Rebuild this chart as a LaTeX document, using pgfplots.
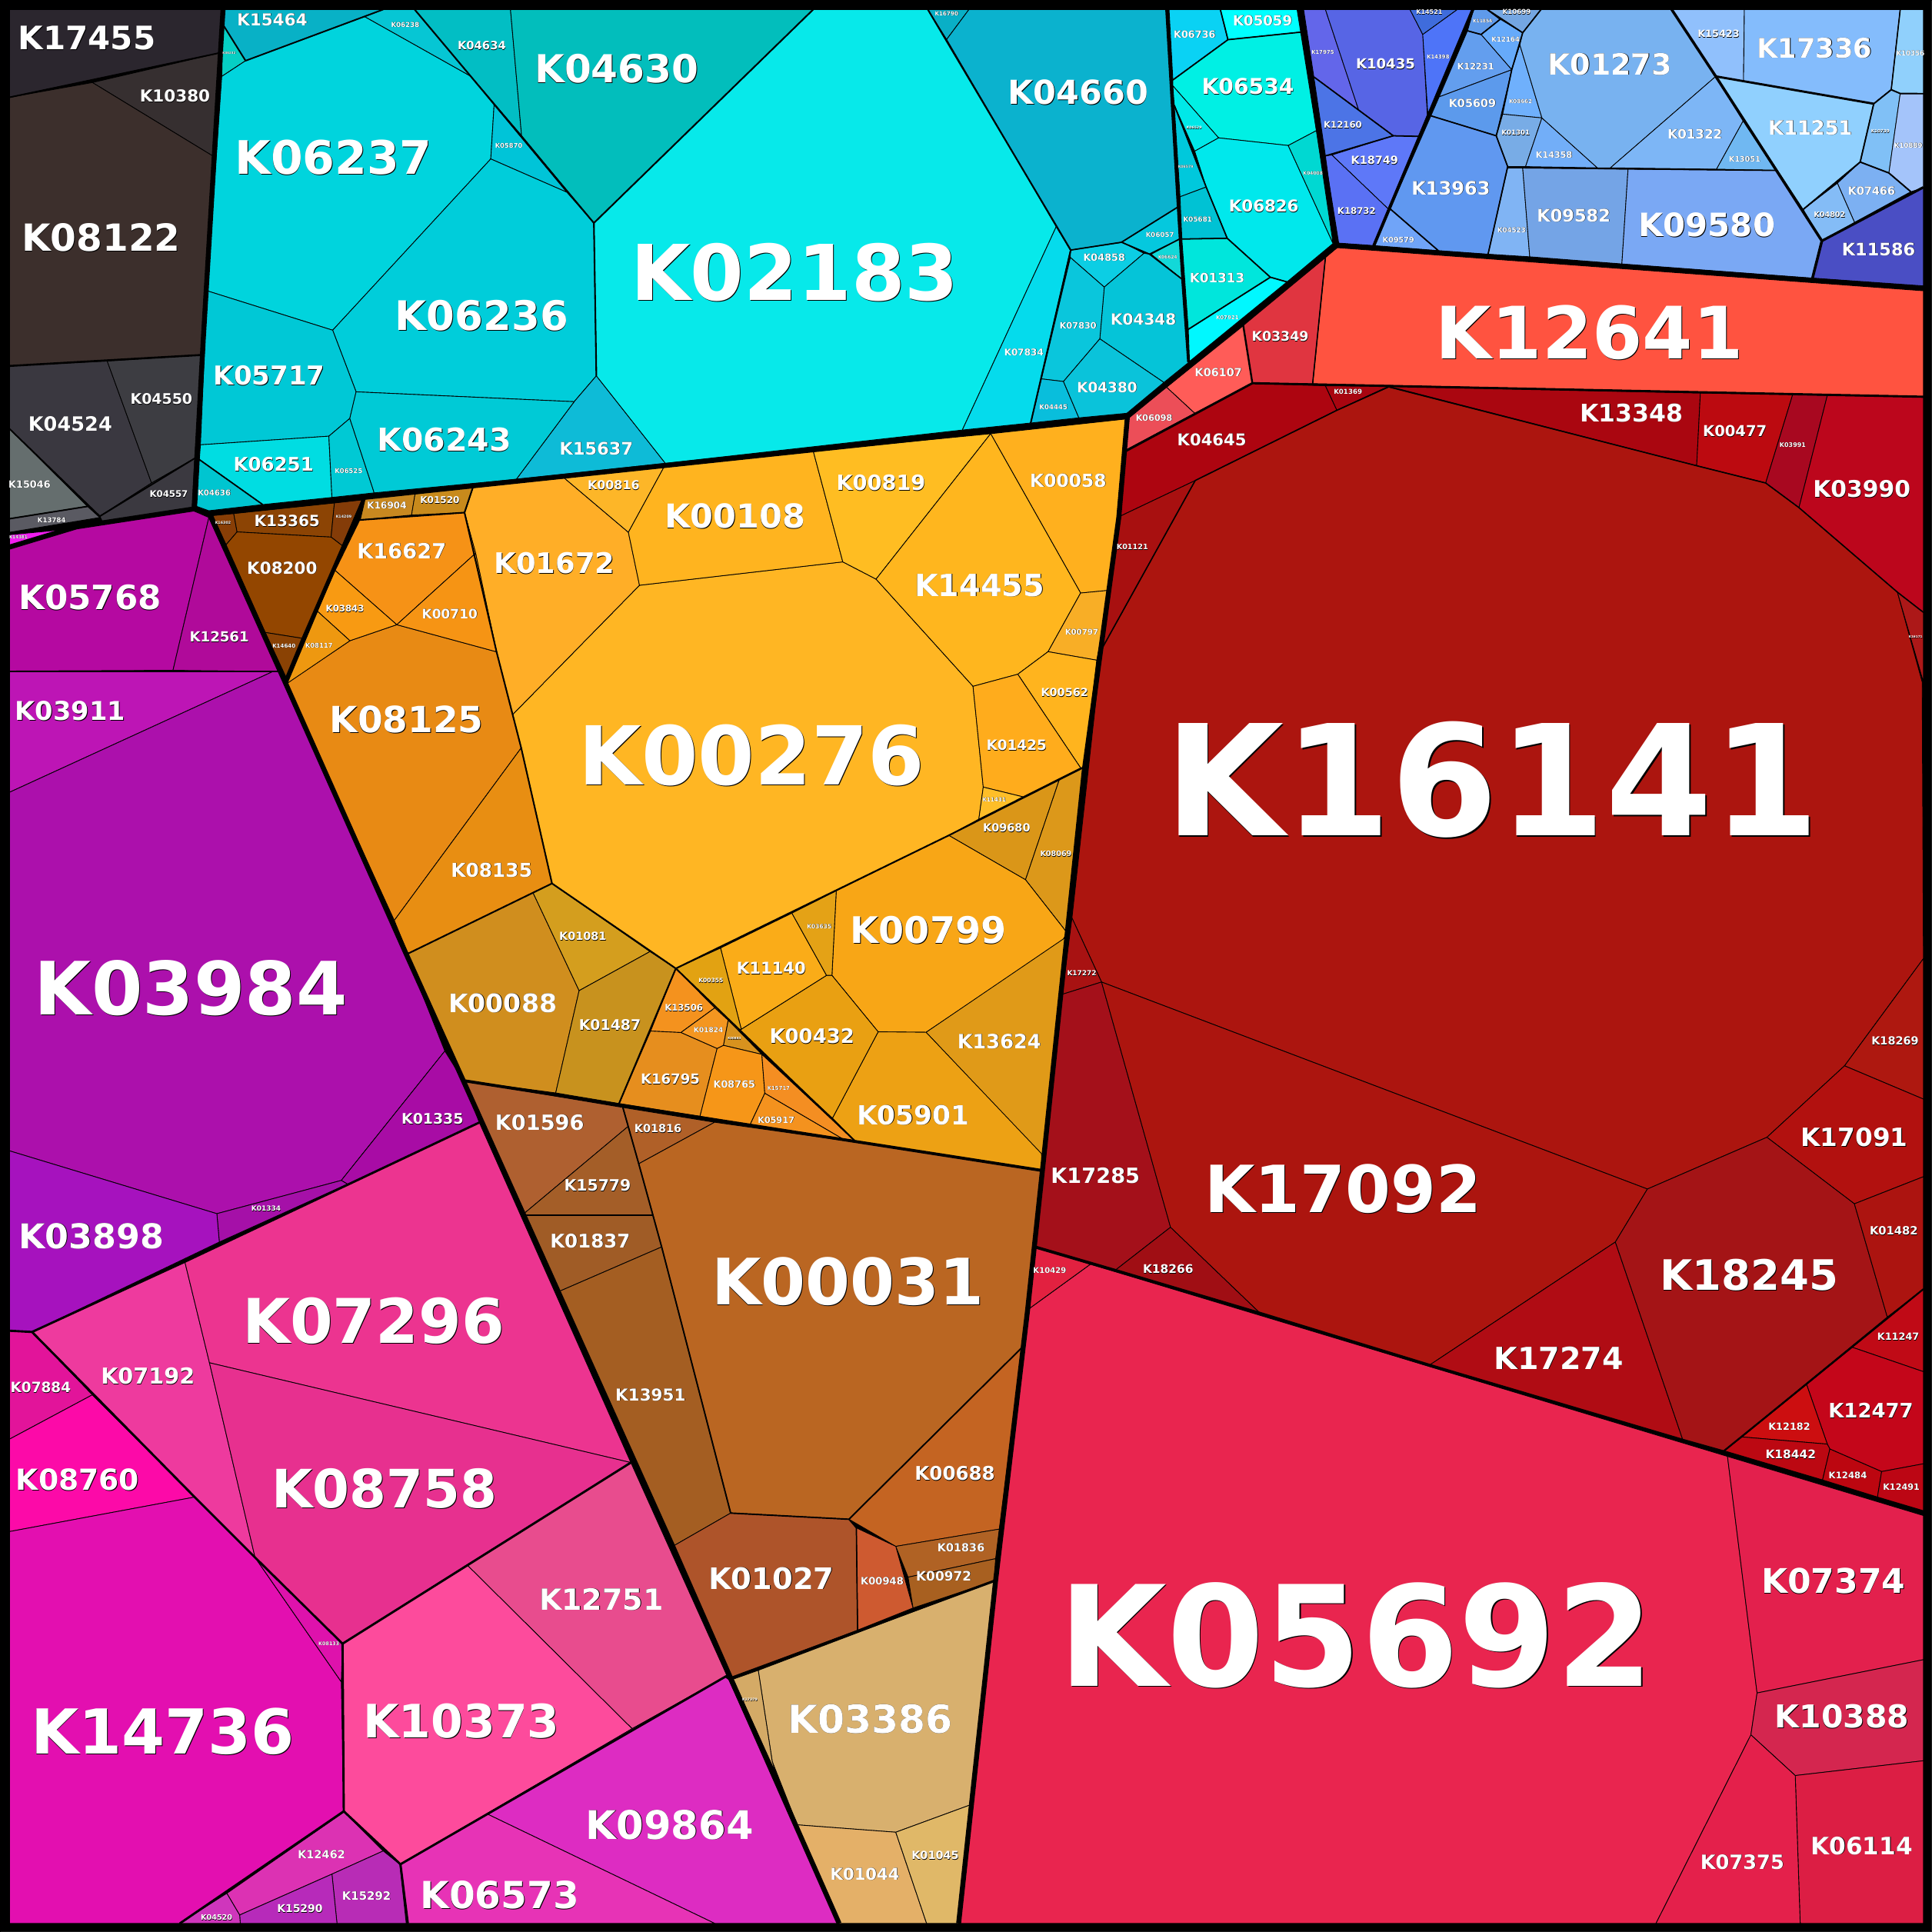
\documentclass[border=0pt]{standalone}
\usepackage{fontspec}
\setmainfont{DejaVu Sans}
\usepackage{pgfplots}
\pgfplotsset{compat=1.18}
\newcommand\C[2]{\definecolor{c#1}{HTML}{#1}\addplot[fill=c#1,draw=black,line width=0.55pt,line join=round] coordinates {#2} --cycle;}
\newcommand\T[2]{\addplot[black,line width=#1pt,line join=round] coordinates {#2};}
\newcommand\LL[4]{\node[black,inner sep=0pt,xshift={#3*0.007+0.2},yshift={-(#3*0.007+0.2)},font={\fontsize{#3}{#3}\bfseries}] at (axis cs:#1,#2) {#4};\node[white,inner sep=0pt,font={\fontsize{#3}{#3}\bfseries}] at (axis cs:#1,#2) {#4};}
\begin{document}
\begin{tikzpicture}
\begin{axis}[width=1568pt,height=1568pt,scale only axis,hide axis,xmin=0,xmax=1568,ymin=0,ymax=1568,y dir=reverse]
\C{1E1E1E}{(0,0)(1568,0)(1568,1568)(0,1568)}
\C{000000}{(1,1)(1567,1)(1567,1567)(1,1567)}
% dark group
\C{2B262E}{(7.7,7.7)(181,7.7)(178,43)(7.7,79)}
\C{362F30}{(75,67)(178,43)(175,128)}
\C{3C2F2C}{(7.7,79)(75,67)(175,128)(165,288)(7.7,297)}
\C{3A3840}{(7.7,297)(87,293)(123,392)(81,419)(7.7,348)}
\C{3D3D42}{(87,293)(165,288)(158,372)(123,392)}
\C{3B3940}{(123,392)(158,372)(156,413)(83,423)(81,419)}
\C{656E6E}{(7.7,348)(71,411)(7.7,421)}
\C{5A5A62}{(7.7,421)(71,411)(81,420)(7.7,432)}
\C{F01DF0}{(7.7,434)(50,430)(7.7,444)}
% magenta group
\C{B509A1}{(7.7,445)(62,427.6)(157,414.5)(169.5,420)(140.4,544)(7.7,544.6)}
\C{B00A9A}{(169.5,420)(227,545)(140.4,544)}
\C{BD15B5}{(7.7,545)(221.5,545)(7.7,643)}
\C{AC10AC}{(7.7,643)(221.5,545)(227,545)(232,555)(330,775)(361,853)(277,958)(176,985)(7.7,934)}
\C{A80CA5}{(361,853)(376,877)(389,911)(282,961)(277,958)}
\C{A510A8}{(176,985)(277,958)(282,961)(178,1008)}
\C{A612BE}{(7.7,934)(176,985)(178,1008)(26,1081)(7.7,1080)}
% pink group
\C{E2149A}{(7.7,1080)(26,1081)(75,1132)(7.7,1168)}
\C{FC0AA8}{(7.7,1168)(75,1132)(158,1215)(7.7,1243)}
\C{E30FB0}{(7.7,1243)(158,1215)(207,1264)(277,1365)(279,1470)(146,1561)(7.7,1561)}
\C{DE12AC}{(207,1264)(278,1334)(277,1365)}
\C{EE3A9E}{(26,1081)(150,1024)(170,1106)(207,1264)(158,1215)(75,1132)}
\C{EC3490}{(150,1024)(389,911)(512,1187)(170,1106)}
\C{E7308F}{(170,1106)(512,1187)(278,1334)(207,1264)}
\C{E84C8E}{(512,1187)(590,1360)(513,1403)(379,1270)}
\C{FD4B9C}{(379,1270)(513,1403)(325,1513)(279,1470)(278,1334)}
\C{DD2CC2}{(590,1360)(681,1561)(580,1561)(395,1472)(513,1403)}
\C{E733B6}{(395,1472)(580,1561)(330,1561)(324.5,1513)}
\C{DC32B3}{(279.2,1470.6)(311,1502.2)(269.4,1521)(194.5,1554.2)(184.1,1536.6)}
\C{B82CB6}{(311,1502.2)(324.5,1513)(329.7,1561)(273.5,1561)(269.4,1521)}
\C{B72ABA}{(194.5,1554.2)(269.4,1521)(273.5,1561)(195,1561)}
\C{CF36BC}{(184.1,1536.6)(194.5,1554.2)(195,1561)(145.6,1561)}
% cyan group
\C{08B1C6}{(182,7.7)(311,7.7)(199.3,49.3)(181,20)}
\C{06CFC4}{(181,20)(199.3,49.3)(180,62)}
\C{00D4DD}{(180,62)(199.3,49.3)(296,13.5)(382.3,62)(401,85)(398.3,129)(270,268)(168,236)}
\C{06C6D4}{(296,13.5)(311,7.7)(336.5,7.7)(382.3,62)}
\C{00C4D8}{(401,85)(460,156)(398.3,129)}
\C{00CDDA}{(398.3,129)(460,156)(482,181)(484,305)(466,326)(289,318)(270,268)}
\C{0EBBD7}{(484,305)(540,376)(419,389)(466,326)}
\C{00C8D6}{(168,236)(270,268)(289,318)(283.9,339.6)(266.9,354)(162.7,361)}
\C{00DDE2}{(162.7,361)(266.9,354)(269.4,403.7)(213.2,409.5)(161.8,373)}
\C{00C9D4}{(266.9,354)(283.9,339.6)(303.7,400)(269.4,403.7)}
\C{00CAD6}{(289,318)(466,326)(419,389)(303.7,400)(283.9,339.6)}
\C{00C5D0}{(161.8,373)(213.2,409.5)(169.5,414.5)(159.7,411)}
\C{02BEC4}{(336.5,7.7)(414.3,7.7)(423.3,110)(382.3,62)}
\C{02BEBC}{(414.3,7.7)(660,7.7)(482,181)(423.3,110)}
\C{07E9EA}{(660,7.7)(753,7.7)(768.3,32)(857.2,184)(781,349)(540,376)(484,305)(482,181)}
\C{05DBEC}{(857.2,184)(868.7,203)(836.5,343.3)(781,349)}
\C{09AFC6}{(753,7.7)(786.4,7.7)(768.3,32)}
\C{0BB2CE}{(786.4,7.7)(946.6,7.7)(956,168)(910.2,196.6)(868.7,203)(768.3,32)}
\C{05C8DE}{(956,168)(958.6,193.4)(933,206.3)(910.2,196.6)}
\C{0CCEE4}{(868.7,203)(910.9,196.7)(928.4,205.6)(896.2,233)(868.7,209)}
\C{12D8D8}{(934.2,206.4)(958.1,193.5)(959.6,226.8)}
\C{05C4D8}{(928.4,205.6)(934.2,206.4)(959.6,226.8)(964.4,294.4)(944.6,310.4)(892.6,275)(896.2,233)}
\C{0AC6DC}{(868.7,209)(896.2,233)(892.6,275)(863.1,309.6)(845.2,307.5)}
\C{09BEDC}{(845.2,307.5)(863.1,309.6)(875.6,339.1)(836.5,343.3)}
\C{0AC3DA}{(892.6,275)(944.6,310.4)(914.5,335.4)(875.6,339.1)(863.1,309.6)}
\C{0AD2F4}{(948.8,7.7)(990.4,7.7)(996.6,32.2)(951.9,64.9)}
\C{00FFFF}{(990.4,7.7)(1054.4,7.7)(1056.5,26)(996.6,32.2)}
\C{00F0E4}{(996.6,32.2)(1056.5,26)(1068.4,106)(1045.5,118.1)(989,111.9)(951.9,69.7)(951.9,64.9)}
\C{00E8E8}{(951.9,69.7)(989,111.9)(969.6,122.7)(953,85.3)}
\C{00C8DC}{(953,85.3)(978.9,151.8)(957.7,159.7)}
\C{00C2D4}{(957.7,159.7)(978.9,151.8)(996,193.4)(959.2,194)}
\C{00E8EC}{(969.6,122.7)(989,111.9)(1045.5,118.1)(1081.9,197.6)(1044.5,228.8)(1031,225)(996,193.4)(978.9,151.8)}
\C{00D8D2}{(1045.5,118.1)(1068.4,106)(1081.9,197.6)}
\C{00E6DC}{(959.2,194)(996,193.4)(1031,225)(964.4,267.3)}
\C{00F8FF}{(964.4,267.3)(1031,225)(1044.5,228.8)(965.4,293.3)}
% blue group
\C{6366EA}{(1058,7.7)(1075.7,7.7)(1102.7,89.4)(1066.3,62.4)}
\C{5765E5}{(1075.7,7.7)(1144.3,7.7)(1154.7,28)(1158.4,93.6)(1151.6,110.7)(1130.8,110.2)(1102.7,89.4)}
\C{3F6CDC}{(1144.3,7.7)(1182.8,7.7)(1154.7,28)}
\C{4E74F8}{(1182.8,7.7)(1195.3,7.7)(1158.9,93.6)(1154.7,28)}
\C{4C74E6}{(1066.3,62.4)(1102.7,89.4)(1130.8,110.2)(1075.7,126.5)}
\C{5E78F8}{(1080.9,125.8)(1130.8,110.2)(1151.6,110.7)(1126.6,169.5)}
\C{5A71F4}{(1075.7,126.5)(1080.9,125.8)(1126.6,169.5)(1115.2,199.3)(1085,197.2)}
\C{5F9AEA}{(1196,7.7)(1207,7.7)(1217.6,15.6)(1202,28)(1191,25)}
\C{74A6E2}{(1207,7.7)(1250.7,7.7)(1235.8,26.6)}
\C{66AAFA}{(1217.6,15.6)(1235.8,26.6)(1233.5,36.4)(1226.9,56.6)(1202,28)}
\C{639EEE}{(1191,25)(1202,28)(1226.9,56.6)(1168,78.6)}
\C{5C9AEC}{(1168,78.6)(1226.9,56.6)(1214.3,110.2)(1161.3,94)}
\C{6FB0FC}{(1233.5,36.4)(1251.4,95.7)(1219.3,92.6)(1226.9,56.6)}
\C{78ACE6}{(1219.3,92.6)(1251.4,95.7)(1238.1,135.2)(1223.6,135.2)(1214.3,110.2)}
\C{72AEF8}{(1251.4,95.7)(1296.4,136.2)(1238.1,135.2)}
\C{78B2F0}{(1250.7,7.7)(1356.7,7.7)(1392.5,62)(1307,136.2)(1296.4,136.2)(1251.4,95.7)(1233.5,36.4)(1235.8,26.6)}
\C{7DB6F6}{(1392.5,62)(1414.7,98.2)(1393.1,137.3)(1307,136.2)}
\C{70B8F2}{(1414.7,98.2)(1441.2,138.3)(1393.1,137.3)}
\C{6098F0}{(1161.3,94)(1214.3,110.2)(1223.6,135.2)(1207.7,206.3)(1167.3,203.4)(1128.2,169.5)}
\C{70A4F8}{(1128.2,169.5)(1167.3,203.4)(1115,199.3)}
\C{80B4F4}{(1223.6,136.2)(1235.8,136.2)(1241.5,208.4)(1207.7,206.3)}
\C{74A4E6}{(1235.8,136.2)(1321.3,137.3)(1316.3,214.2)(1241.5,208.4)}
\C{7AA8F4}{(1321.3,137.3)(1441.2,138.3)(1478.6,195.5)(1471,225.7)(1316.3,214.2)}
\C{90C0FC}{(1356.7,7.7)(1415.7,7.7)(1415,66)(1392.5,62)}
\C{84BCFC}{(1415.7,7.7)(1542.2,7.7)(1534.9,72.8)(1520.7,84.2)(1415,66)}
\C{90D0FC}{(1542.2,7.7)(1561,7.7)(1561,76)(1542.2,75.9)(1534.9,72.8)}
\C{90D0FE}{(1392.5,62)(1520.7,84.2)(1509.7,131.5)(1463.4,170)}
\C{80C0F6}{(1520.7,84.2)(1534.9,72.8)(1542.2,75.9)(1533,140.4)(1509.7,131.5)}
\C{A4C4FA}{(1542.2,75.9)(1561,75.9)(1561,152.5)(1550.8,155.6)(1533,140.4)}
\C{7CB0F2}{(1509.7,131.5)(1533,140.4)(1550.8,155.6)(1505.1,180.5)(1491.2,148.7)}
\C{84BCF6}{(1491.2,148.7)(1505.1,180.5)(1478.6,195.5)(1463.4,170)}
\C{4A4EC4}{(1561,152)(1561,232)(1471,225.7)(1478.6,195.5)}
% top red
\C{FF5340}{(1085,201)(1561,236)(1561,322)(1065.3,311.5)(1075.7,209)}
\C{E03540}{(1075.7,209)(1065.3,311.5)(1016.4,311)(1009,264.2)}
\C{FF5C58}{(1009.1,264.3)(1016.4,311)(969.6,335.4)(946.7,314.2)}
\C{EC4E58}{(946.7,314.2)(969.6,335.4)(913.8,365.1)(914.5,337)}
\C{AD0510}{(1016.4,311)(1075.7,313.1)(1085,332.9)(970,390)(909,419)(913.8,366)}
\C{A80510}{(1075.7,313.1)(1127,313.5)(1085,332.9)}
\C{AA0610}{(1127,313.5)(1380,319)(1377,378)}
\C{BC0A10}{(1380,319)(1455,320)(1433,392)(1377,378)}
\C{A80820}{(1455,320)(1483,321)(1460,412)(1433,392)}
\C{BC061C}{(1483,321)(1561,322)(1561,497)(1539.9,480.6)(1460,412)}
\C{AC150F}{(970,390)(1085,333)(1127,314)(1377,378)(1433,392)(1460,412)(1539.9,480.6)(1560,553.5)(1561,778)(1497,865)(1434,923)(1337,965)(894,797)(870,745)(894,527)}
\C{A81010}{(913,368)(909,419)(970,390)(894,527)}
\C{AC1818}{(1539.9,480.6)(1561,497)(1561,553.5)}
\C{A81212}{(870,745)(894,797)(862,807)}
\C{A4101A}{(862,807)(894,797)(950,996)(905,1031)(840,1012)(846,950)}
\C{A00E14}{(950,996)(1023,1066)(905,1031)}
\C{AC150F}{(894,797)(1337,965)(1311,1008)(1160,1108)(1023,1066)(950,996)}
\C{B00C14}{(1311,1008)(1365.9,1169)(1160,1108)}
\C{AE1810}{(1561,778)(1497,865)(1561,892)}
\C{B2110F}{(1497,865)(1561,892)(1561,955)(1505,977)(1434,923)}
\C{A41416}{(1434,923)(1505,977)(1531.7,1068.9)(1398.2,1178.3)(1365.9,1169)(1311,1008)(1337,965)}
\C{AC1410}{(1505,977)(1561,955)(1561,1046.2)(1531.7,1068.9)}
\C{C00A16}{(1561,1046.2)(1503.2,1093.4)(1561,1113.2)}
\C{C4061A}{(1503.2,1093.4)(1561,1113.2)(1561,1188)(1527.1,1194.3)(1485.1,1176)(1483,1172)(1466.2,1123.6)}
\C{CC0E10}{(1466.2,1123.6)(1483,1172)(1413.8,1166.2)}
\C{BC0812}{(1413.8,1166.2)(1483,1172)(1485.1,1176)(1478.9,1202.2)(1398.2,1178.3)}
\C{BC0610}{(1485.1,1176)(1527.1,1194.3)(1523.6,1215.7)(1478.9,1202.2)}
\C{BC0614}{(1527.1,1194.3)(1561,1188)(1561,1227)(1523.6,1215.7)}
% crimson
\C{E9254F}{(885,1026)(1402,1182)(1426,1374)(1421,1408)(1344,1561)(778,1561)(808,1283)(834,1063)}
\C{E22140}{(840,1012)(885,1026)(834,1063)}
\C{E3204D}{(1402,1182)(1561,1230)(1561,1347)(1426,1374)}
\C{D4264F}{(1426,1374)(1561,1347)(1561,1429)(1457,1441)(1421,1408)}
\C{DC1E44}{(1457,1441)(1561,1429)(1561,1561)(1461,1561)}
\C{E4204B}{(1421,1408)(1457,1441)(1461,1561)(1344,1561)}
% orange
\C{FFB623}{(519,475)(684,456)(711,470)(789.7,557)(798,638.8)(794.4,664.8)(770,678)(548.5,786)(448,717)(423,607)(416,580)}
\C{FFAE27}{(384,395)(458,388)(510,432)(519,475)(416,580)(403,529)(386,449)(377,416)}
\C{FDB628}{(458,388)(540,377)(510,432)}
\C{FFB41F}{(540,377)(660,366)(684,456)(519,475)(510,432)}
\C{FFBD22}{(660,366)(804,352)(711,470)(684,456)}
\C{FFB01E}{(804,352)(914,340)(901,479)(877,481.3)}
\C{FFB61E}{(804,352)(877,481.3)(850.6,528.9)(826,547.2)(789.7,557)(711,470)}
\C{F8AE26}{(877,481.3)(901,479)(890.1,535.8)(850.6,528.9)}
\C{FFB41E}{(826,547.2)(850.6,528.9)(890.1,535.8)(880,622.5)(877,623.2)}
\C{FFAC1C}{(789.7,557)(826,547.2)(877,623.2)(830.2,646.7)(798,638.8)}
\C{FEBE28}{(798,638.8)(830.2,646.7)(794.4,664.8)}
\C{DA9618}{(770,678)(859.8,632.5)(832.3,714)}
\C{DC981A}{(859.8,632.5)(880,622.5)(866,757)(832.3,714)}
\C{F8A616}{(678.7,723)(770,678)(832.3,714)(866,757)(861.5,764.6)(751.6,837.8)(712.7,837.4)(675.2,791.6)}
\C{E09A18}{(866,760)(846,938)(751.6,837.8)}
\C{EDA114}{(712.7,837.4)(751.6,837.8)(845.2,936.2)(846,950)(694.7,926.8)(675.6,907.5)}
\C{E9A012}{(601.6,835.3)(670.8,791.6)(675.2,791.6)(712.7,837.4)(675.6,907.5)(598,835)}
\C{FAAC18}{(584.8,769.4)(642.7,741.1)(670.8,791.6)(601.6,835.3)}
\C{E4A216}{(642.7,741.1)(678.7,723)(675.2,791.6)(670.8,791.6)}
\C{E2A212}{(548.5,786)(584.8,769.4)(601.6,835.3)(598,836)}
\C{F4921E}{(548.5,786)(580.1,818)(552.6,838)(528,836.8)}
\C{F49620}{(580.1,818)(591,828)(587.2,848.4)(582,851)(552.6,838)}
\C{D8921E}{(591,828)(618.3,855.7)(587.2,848.4)}
\C{E68E1E}{(528,836.8)(552.6,838)(582,851)(568.1,906)(502.4,895.6)}
\C{F69618}{(582,851)(587.2,848.4)(618.3,855.7)(620.7,887.3)(608.7,912.9)(568.1,906)}
\C{F48E22}{(618.3,855.7)(694.7,926.8)(686.4,925.8)(620.7,887.3)}
\C{F4921E}{(620.7,887.3)(686.4,925.8)(608.7,912.9)}
\C{D08E1E}{(331,774)(430,719)(470,804)(451,887)(376,877)}
\C{D49E1E}{(430,719)(448,717)(527.5,772.3)(470,804)}
\C{C8921E}{(470,804)(527.5,772.3)(548.5,786)(502.4,895.6)(451,887)}
\C{E88A14}{(232,555)(284,520)(322,507)(403,529)(416,580)(423,607)(320,747)}
\C{E88E12}{(423,607)(448,717)(331,774)(320,747)}
\C{F69216}{(292,422)(377,416)(386,449)(322,507)(272,463)}
\C{F89A12}{(272,463)(322,507)(284,520)(257.5,496)}
\C{EE9810}{(257.5,496)(284,520)(232.5,555)}
\C{F69414}{(322,507)(386,449)(403,529)}
\C{C88820}{(296,405)(337,400)(334,418)(292,422)}
\C{C88A1C}{(337,400)(384,395)(377,416)(334,418)}
% small brown
\C{883E06}{(172.6,418.2)(189.7,416.8)(192.4,431.7)(183.5,442.1)}
\C{8C4404}{(189.7,416.8)(271.4,408.2)(268.7,435.9)(192.4,431.7)}
\C{843C08}{(271.4,408.2)(293.7,405.7)(277.7,442.8)(268.7,435.9)}
\C{934600}{(192.4,431.7)(268.7,435.9)(277.7,442.8)(245,518)(215.3,513.3)(183.5,442.1)}
\C{8A4204}{(215.3,513.3)(245,518)(232,549.3)}
% brown
\C{AF6030}{(376,877)(505.5,898.8)(510,914)(424,986)}
\C{A45E28}{(510,914)(518.4,944.5)(530,986)(424,986)}
\C{A05C26}{(424,986)(530,986)(537,1012)(454,1048)}
\C{A45E22}{(454,1048)(537,1012)(593,1228)(546,1255)}
\C{B06028}{(505.5,898.8)(580,910.8)(518.4,944.5)}
\C{BA6622}{(518.4,944.5)(580,910.8)(694.7,927)(846,950)(830,1093)(689,1233)(593,1228)(537,1012)(530,986)}
\C{C46422}{(830,1093)(811,1241)(727,1255)(689,1233)}
\C{B06224}{(727,1255)(811,1241)(808,1265)(737,1280)}
\C{A86020}{(737,1280)(808,1265)(807,1283)(741,1305)}
\C{CE5A30}{(695,1240)(727,1255)(741,1305)(696,1323)}
\C{AE542A}{(593,1228)(689,1233)(695,1240)(696,1323)(593,1362)(546,1255)}
\C{D8B06E}{(615.4,1355.6)(807,1283)(787,1465)(727,1487)(647,1481)(626.7,1429.4)}
\C{D4AA66}{(595,1362.8)(615.4,1355.6)(626.7,1429.4)(630,1440)}
\C{E4B068}{(647,1481)(727,1487)(752,1561)(681,1561)}
\C{E0B868}{(727,1487)(787,1465)(778,1561)(752,1561)}
% level lines
\T{1.2}{(7.7,79)(178,43)}
\T{1.6}{(7.7,297)(165,288)}
\T{1.2}{(7.7,348)(81,419)(158,372)}
\T{1.2}{(7.7,421)(71,411)}
\T{1.0}{(7.7,545)(227,545)}
\T{1.8}{(7.7,1080)(26,1081)(150,1024)(389,911)}
\T{1.8}{(26,1081)(158,1215)(207,1264)(278,1334)(512,1187)}
\T{1.8}{(278,1334)(279,1470)(146,1561)}
\T{1.8}{(279,1470)(325,1513)(331,1561)}
\T{1.8}{(325,1513)(590,1360)}
\T{1.2}{(181,20)(199.3,49.3)(311,7.7)}
\T{1.3}{(336.5,7.7)(482,181)(660,7.7)}
\T{1.3}{(482,181)(484,305)}
\T{1.3}{(753,7.7)(869,203)(836.5,343.3)}
\T{1.1}{(956,168)(910.2,196.6)(868.7,203)}
\T{1.1}{(910.2,196.6)(933,206.3)(959.6,226.8)}
\T{1.1}{(958.6,193.4)(933,206.3)}
\T{1.8}{(946.6,7.7)(956,168)(959.6,227)(964.4,294)}
\T{1.1}{(951.9,64.9)(996.6,32.2)(1056.5,26)}
\T{1.1}{(990.4,7.7)(996.6,32.2)}
\T{1.1}{(953,85.3)(978.9,151.8)(996,193.4)(1031,225)(964.4,267.3)}
\T{1.1}{(1031,225)(1044.5,228.8)}
\T{1.1}{(959.2,194)(996,193.4)}
\T{1.1}{(161.8,373)(213.2,409.5)}
\T{2.5}{(1195.3,7.7)(1115,199.3)}
\T{1.1}{(1066.3,62.4)(1130.8,110.2)(1151.6,110.7)}
\T{1.1}{(1075.7,126.5)(1130.8,110.2)}
\T{1.1}{(1161.3,94)(1214.3,110.2)(1223.6,135.2)(1207.7,206.3)}
\T{1.1}{(1223.6,136)(1441.2,138.3)}
\T{1.1}{(1191,25)(1202,28)(1217.6,15.6)(1207,7.7)(1235.8,26.6)(1250.7,7.7)}
\T{1.1}{(1235.8,26.6)(1226.9,56.6)(1219.3,92.6)(1214.3,110.2)}
\T{1.1}{(1128.2,169.5)(1167.3,203.4)}
\T{1.2}{(1520.7,84.2)(1509.7,131.5)(1463.4,170)}
\T{1.2}{(1520.7,84.2)(1534.9,72.8)(1542.2,75.9)(1561,76)}
\T{1.0}{(1534.9,72.8)(1542.2,7.7)}
\T{1.2}{(1509.7,131.5)(1533,140.4)(1550.8,155.6)}
\T{2.2}{(1356.7,7.7)(1392.5,62)(1478.6,195.5)(1471,225.7)}
\T{1.8}{(1392.5,62)(1520.7,84.2)}
\T{2.0}{(1478.6,195.5)(1561,152)}
\T{1.5}{(1009,264.2)(1016.4,311)}
\T{1.0}{(1075.7,209)(1065.3,311.5)}
\T{1.8}{(913.8,366)(1016.4,311)(1561,322)}
\T{1.0}{(970,390)(1085,333)(1127,314)(1377,378)(1433,392)(1460,412)(1539.9,480.6)(1561,497)}
\T{1.0}{(894,527)(970,390)}
\T{1.4}{(1398.2,1178.3)(1561,1046.2)}
\T{2.4}{(840,1012)(905,1031)(1023,1066)(1160,1108)(1366,1169)(1398,1178)(1479,1202)(1524,1216)(1561,1227)}
\T{2.4}{(295,405)(232,555)}
\T{1.3}{(296,405)(292,422)(377,416)(403,529)(423,607)(448,717)(331,774)}
\T{1.3}{(384,395)(377,416)}
\T{1.3}{(448,717)(548.5,786)(770,678)(880,622.5)}
\T{1.3}{(548.5,786)(694.7,926.8)}
\T{1.3}{(502.4,895.6)(548.5,786)}
\T{2.4}{(376,877)(846,950)}
\T{1.2}{(505.5,898.8)(518.4,944.5)(537,1012)(593,1228)(689,1233)(830,1093)}
\T{1.0}{(689,1233)(695,1240)(696,1323)}
\T{2.0}{(593,1362)(807,1283)}
\T{1.1}{(424,986)(530,986)}
% top level
\T{4}{(181,7.7)(165,275)(157.5,413)}
\T{4}{(7.7,444)(62,427.6)(157.5,413)(170,417)(915,338)}
\T{4}{(1054.4,7.7)(1085,199)(915,338)(908,420)(880,625)(846,950)(834,1063)(808,1283)(778,1561)}
\T{3.6}{(1085,199)(1561,234)}
\T{4}{(170,417)(232,555)(330,775)(376,877)(546,1255)(593,1362)(681,1561)}
\T{4}{(590,1360)(593,1362)}
% labels
\LL{1211}{633}{125}{K16141}
\LL{1100.5}{1327}{113.5}{K05692}
\LL{645}{221}{62.5}{K02183}
\LL{610}{613}{66}{K00276}
\LL{155}{802}{59.7}{K03984}
\LL{1090}{965}{52.8}{K17092}
\LL{688}{1040}{52}{K00031}
\LL{303}{1072}{50}{K07296}
\LL{132}{1405}{50.3}{K14736}
\LL{312}{1208}{43}{K08758}
\LL{1290}{270}{58.6}{K12641}
\LL{270.5}{128}{37.5}{K06237}
\LL{391}{256}{33}{K06236}
\LL{82}{193}{30.3}{K08122}
\LL{500.5}{56}{31.3}{K04630}
\LL{875}{75}{26.8}{K04660}
\LL{374.5}{1397}{37.4}{K10373}
\LL{706}{1395}{31.4}{K03386}
\LL{543.5}{1481}{32}{K09864}
\LL{405.5}{1538}{30.3}{K06573}
\LL{488}{1298}{23.7}{K12751}
\LL{1419.5}{1035}{34}{K18245}
\LL{753.5}{755}{29.7}{K00799}
\LL{330}{584}{29.3}{K08125}
\LL{795}{475}{24.8}{K14455}
\LL{450}{457}{23}{K01672}
\LL{596.5}{419}{26.8}{K00108}
\LL{715}{392}{17}{K00819}
\LL{867}{390}{14.6}{K00058}
\LL{360.5}{357}{25.6}{K06243}
\LL{218.5}{305}{21.2}{K05717}
\LL{222}{377}{15.3}{K06251}
\LL{73}{485}{27.2}{K05768}
\LL{57}{577}{21}{K03911}
\LL{74}{1003}{27.7}{K03898}
\LL{70.5}{31}{26.2}{K17455}
\LL{142}{78}{13.4}{K10380}
\LL{57}{344}{16}{K04524}
\LL{131}{324}{11.8}{K04550}
\LL{137}{401}{7.3}{K04557}
\LL{24}{393}{8}{K15046}
\LL{42}{422}{5.4}{K13784}
\LL{15}{436}{3.5}{K14381}
\LL{221}{16}{13.4}{K15464}
\LL{329}{20}{5.4}{K06238}
\LL{391}{37}{9.2}{K04634}
\LL{413}{118}{5.2}{K05870}
\LL{186}{43}{2.5}{K06232}
\LL{484}{364}{14}{K15637}
\LL{283}{382}{5.3}{K06525}
\LL{174}{400}{6.3}{K04636}
\LL{178}{517}{11.3}{K12561}
\LL{229}{461}{13.4}{K08200}
\LL{233}{423}{12.5}{K13365}
\LL{181}{424.5}{3}{K16302}
\LL{279}{419}{3}{K14209}
\LL{230.5}{524}{4.4}{K14640}
\LL{314}{410}{7.5}{K16904}
\LL{357}{406}{7.5}{K01520}
\LL{326}{447}{17}{K16627}
\LL{365}{498}{10.6}{K00710}
\LL{280}{494}{7.3}{K03843}
\LL{259}{524}{5.2}{K08117}
\LL{399}{706}{15.5}{K08135}
\LL{408}{814}{20.7}{K00088}
\LL{473}{760}{9}{K01081}
\LL{495}{832}{11.8}{K01487}
\LL{498}{394}{9.9}{K00816}
\LL{878}{513}{6.3}{K00797}
\LL{864}{562}{9}{K00562}
\LL{825}{605}{11.5}{K01425}
\LL{807}{649}{4.5}{K11431}
\LL{817}{672}{9}{K09680}
\LL{857}{693}{6}{K08069}
\LL{665}{752}{4.7}{K03635}
\LL{626}{786}{13.2}{K11140}
\LL{577}{796}{4.7}{K00355}
\LL{555}{818}{7.3}{K13506}
\LL{575}{836}{5.6}{K01824}
\LL{596}{843}{2.5}{K00883}
\LL{544}{876}{11.3}{K16795}
\LL{596}{880}{8}{K08765}
\LL{632}{883}{4.3}{K15717}
\LL{630}{909}{7}{K05917}
\LL{659}{841}{16.2}{K00432}
\LL{811}{845}{16}{K13624}
\LL{741}{905}{21.4}{K05901}
\LL{438}{911}{17}{K01596}
\LL{534}{916}{9}{K01816}
\LL{485}{962}{12.7}{K15779}
\LL{479}{1007}{15.3}{K01837}
\LL{528}{1132}{13.4}{K13951}
\LL{775}{1196}{15.3}{K00688}
\LL{780}{1256}{9}{K01836}
\LL{766}{1279}{10.6}{K00972}
\LL{716}{1283}{8.2}{K00948}
\LL{626}{1281}{24}{K01027}
\LL{608.6}{1379.5}{2.9}{K17379}
\LL{702}{1521}{13.2}{K01044}
\LL{759}{1506}{9}{K01045}
\LL{33}{1126}{11.5}{K07884}
\LL{120}{1117}{17.9}{K07192}
\LL{63}{1201}{23.5}{K08760}
\LL{267}{1334}{4}{K08133}
\LL{351}{908}{11.8}{K01335}
\LL{216}{981}{5.6}{K01334}
\LL{261}{1505}{9}{K12462}
\LL{243.4}{1549}{8.7}{K15290}
\LL{297.5}{1538.6}{9.3}{K15292}
\LL{175.8}{1556.3}{6}{K04520}
\LL{768.3}{11}{4.5}{K16790}
\LL{831}{286}{7.5}{K07834}
\LL{875}{264.3}{7}{K07830}
\LL{896.2}{208.7}{8}{K04858}
\LL{941.4}{190.3}{5.4}{K06057}
\LL{947.7}{208.5}{3.6}{K06624}
\LL{928}{259}{12.5}{K04348}
\LL{898.5}{314.2}{11.5}{K04380}
\LL{855}{330.2}{5.4}{K04445}
\LL{969.6}{28}{8}{K06736}
\LL{1024.7}{16.6}{11.3}{K05059}
\LL{1012.8}{70.3}{17.6}{K06534}
\LL{969.2}{103.8}{2.9}{K06529}
\LL{962.3}{135.2}{2.9}{K06579}
\LL{972.1}{177.8}{5.5}{K05681}
\LL{1025.7}{167.4}{13.3}{K06826}
\LL{1065.7}{140.4}{3.7}{K04008}
\LL{987.9}{225.3}{10.4}{K01313}
\LL{996.2}{257.5}{4.3}{K07921}
\LL{1073.6}{42.2}{4.3}{K17975}
\LL{1124.5}{52}{11.3}{K10435}
\LL{1160}{10}{5}{K14521}
\LL{1167.2}{46}{4.3}{K14398}
\LL{1089.8}{101.5}{7.3}{K12160}
\LL{1115.6}{130.2}{9}{K18749}
\LL{1101}{171.4}{7.3}{K18732}
\LL{1135}{194.5}{6}{K09579}
\LL{1203.4}{16.8}{3.7}{K11854}
\LL{1230.9}{9.8}{5.4}{K10699}
\LL{1222}{31.8}{5.4}{K12164}
\LL{1197.7}{53.7}{7}{K12231}
\LL{1195}{83.8}{9}{K05609}
\LL{1234.2}{82.2}{4.4}{K08662}
\LL{1230.2}{107.7}{5.4}{K01301}
\LL{1261.3}{125.6}{7}{K14358}
\LL{1306.4}{52}{23.7}{K01273}
\LL{1375.6}{108.8}{10.4}{K01322}
\LL{1416}{129}{6}{K13051}
\LL{1177.5}{152.5}{15}{K13963}
\LL{1226.9}{186.8}{5.4}{K04523}
\LL{1277.2}{174.7}{14}{K09582}
\LL{1385.2}{182.6}{26.1}{K09580}
\LL{1394.8}{27.5}{8}{K15423}
\LL{1472.6}{38.9}{22}{K17336}
\LL{1550.5}{43.3}{5.4}{K10356}
\LL{1469.3}{103.6}{16}{K11251}
\LL{1526}{106.7}{3.5}{K10739}
\LL{1548.8}{118.1}{5.4}{K10889}
\LL{1519}{155}{9}{K07466}
\LL{1484.9}{174.3}{6}{K04802}
\LL{1524.6}{202.2}{14}{K11586}
\LL{1039}{273}{10.8}{K03349}
\LL{988.9}{302.1}{9}{K06107}
\LL{936.7}{339.1}{7}{K06098}
\LL{983.5}{356.8}{13.2}{K04645}
\LL{1094}{318}{5.4}{K01369}
\LL{919}{444}{6}{K01121}
\LL{1324}{335}{19.7}{K13348}
\LL{1408}{350}{12.2}{K00477}
\LL{1455}{361}{5}{K03991}
\LL{1511}{397}{18.6}{K03990}
\LL{1554.7}{517.1}{2.6}{K16171}
\LL{1538}{845}{9}{K18269}
\LL{1505}{923}{20.4}{K17091}
\LL{1537}{999}{9.2}{K01482}
\LL{878}{790}{5.6}{K17272}
\LL{889}{954}{17}{K17285}
\LL{948}{1030}{9.6}{K18266}
\LL{1265}{1102}{24.7}{K17274}
\LL{852}{1031}{6.3}{K10429}
\LL{1540.6}{1085}{8}{K11247}
\LL{1518.4}{1144.8}{16.2}{K12477}
\LL{1452.2}{1157.7}{8}{K12182}
\LL{1453.3}{1180.6}{9.6}{K18442}
\LL{1499.7}{1197.2}{7.3}{K12484}
\LL{1543.1}{1206.8}{7}{K12491}
\LL{1488}{1283}{27.5}{K07374}
\LL{1495}{1393}{25.6}{K10388}
\LL{1511}{1498}{19.5}{K06114}
\LL{1414}{1511}{16}{K07375}
\end{axis}
\end{tikzpicture}
\end{document}
